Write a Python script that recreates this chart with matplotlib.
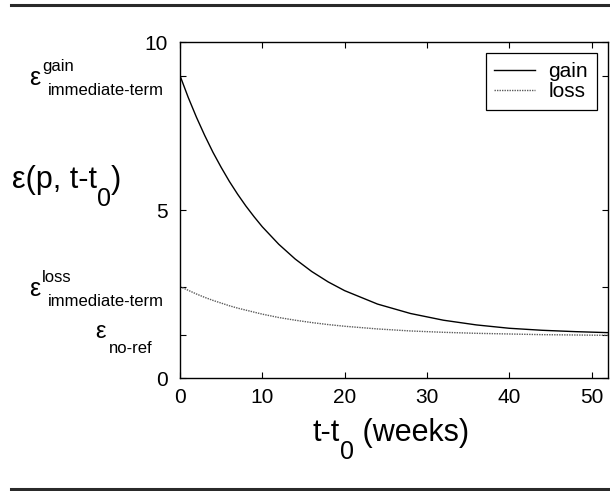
import matplotlib
matplotlib.use("Agg")
import matplotlib.pyplot as plt
from matplotlib.lines import Line2D

plt.rcParams["font.family"] = ["Liberation Sans", "DejaVu Sans"]

# --- Data ---
weeks = [0, 1, 2, 3, 4, 5, 6, 7, 8, 9, 10, 12, 14, 16, 18, 20,
         24, 28, 32, 36, 40, 44, 48, 52]
gain = [9.0, 8.35, 7.76, 7.22, 6.72, 6.27, 5.85, 5.47, 5.12, 4.80, 4.50,
        3.98, 3.54, 3.17, 2.86, 2.60, 2.20, 1.92, 1.72, 1.58, 1.48, 1.42,
        1.38, 1.35]
loss = [2.72, 2.61, 2.50, 2.40, 2.31, 2.23, 2.15, 2.08, 2.02, 1.96, 1.90,
        1.80, 1.72, 1.65, 1.59, 1.54, 1.46, 1.40, 1.36, 1.33, 1.31, 1.29,
        1.28, 1.27]

gain_immediate = 9.0
loss_immediate = 2.72
no_ref = 1.27

x_ticks = [0, 10, 20, 30, 40, 50]
y_ticks = [0, no_ref, loss_immediate, 5, gain_immediate, 10]
y_ticklabels = ["0", "", "", "5", "", "10"]

# --- Figure in pixel units ---
W, H = 610, 491


def fx(px):
    return px / W


def fy(py):
    return 1 - py / H


fig = plt.figure(figsize=(W / 100, H / 100), dpi=100)
ax = fig.add_axes([fx(180), fy(378), (608 - 180) / W, (378 - 42) / H])

ax.plot(weeks, gain, color="black", lw=1.0, label="gain")
ax.plot(weeks, loss, color="#5a5a5a", lw=1.0, ls=(0, (1, 0.8)), label="loss")

ax.set_xlim(0, 52)
ax.set_ylim(0, 10)
ax.set_xticks(x_ticks)
ax.set_yticks(y_ticks)
ax.set_yticklabels(y_ticklabels)
ax.tick_params(direction="in", length=4, width=0.8, top=True, right=True,
               labelsize=15, colors="black")
ax.tick_params(axis="x", pad=7)
ax.tick_params(axis="y", pad=9)
for sp in ax.spines.values():
    sp.set_linewidth(1.0)

leg = ax.legend(loc="upper right", bbox_to_anchor=(0.974, 0.967),
                borderaxespad=0, fontsize=15, handlelength=1.95,
                handletextpad=0.65, labelspacing=0.05, borderpad=0.42,
                fancybox=False, framealpha=1, edgecolor="black")
leg.get_frame().set_linewidth(0.9)

# --- Epsilon level labels on the left ---
lvl = dict(xycoords=("axes fraction", "data"), textcoords="offset pixels",
           va="baseline", annotation_clip=False)


def eps_label(y, sup, sub):
    ax.annotate("ε", xy=(0, y), xytext=(-140, -9), ha="right", fontsize=18, **lvl)
    ax.annotate(sup, xy=(0, y), xytext=(-138, 5), ha="left", fontsize=12, **lvl)
    ax.annotate(sub, xy=(0, y), xytext=(-16, -19), ha="right", fontsize=12, **lvl)


eps_label(gain_immediate, "gain", "immediate-term")
eps_label(loss_immediate, "loss", "immediate-term")
ax.annotate("ε", xy=(0, no_ref), xytext=(-74, -3), ha="right", fontsize=17, **lvl)
ax.annotate("no-ref", xy=(0, no_ref), xytext=(-71, -18), ha="left", fontsize=12, **lvl)


# --- Axis labels with subscript 0 ---
def sub_label(px, py, head, tail):
    m = fig.text(fx(px), fy(py), head, fontsize=22, va="baseline")
    s = ax.annotate("0", xy=(1, 0), xycoords=m, xytext=(0, -11),
                    textcoords="offset pixels", fontsize=18, va="baseline",
                    ha="left", annotation_clip=False)
    ax.annotate(tail, xy=(1, 0), xycoords=(s, m), fontsize=22, va="bottom",
                ha="left", annotation_clip=False)


sub_label(12, 188, "ε(p, t-t", ")")
sub_label(313, 441, "t-t", " (weeks)")

# --- Horizontal rules above and below ---
for y in (5, 489):
    fig.add_artist(Line2D([fx(11), fx(610)], [fy(y), fy(y)], color="#2a2a2a",
                          lw=2.2, transform=fig.transFigure))

fig.savefig("out.png", dpi=100)
